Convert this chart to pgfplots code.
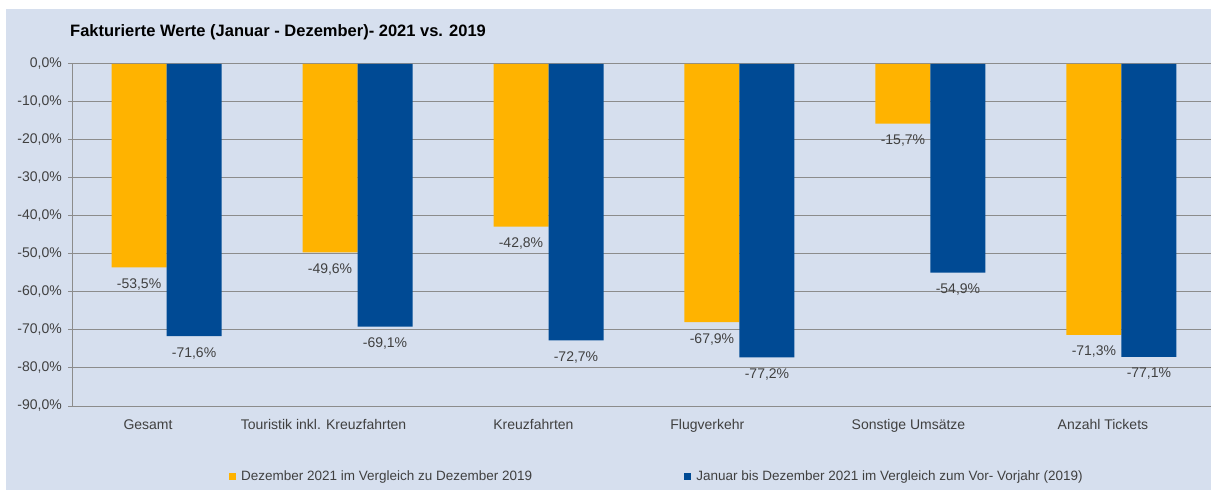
\documentclass[border=0pt]{standalone}
\usepackage{pgfplots}
\pgfplotsset{compat=1.18}
\usepackage{fontspec}
\setmainfont{Liberation Sans}

\definecolor{bgpanel}{HTML}{D6DFEE}
\definecolor{barorange}{HTML}{FFB300}
\definecolor{barblue}{HTML}{004A94}
\definecolor{gridgray}{HTML}{8C8C8C}
\definecolor{txtgray}{HTML}{404040}

\newcommand{\chartfont}{\fontsize{13.5bp}{16bp}\selectfont}
\newcommand{\tickfont}{\fontsize{14bp}{16bp}\selectfont}

\begin{document}
\begin{tikzpicture}
\useasboundingbox (0,0) rectangle (1211bp,490bp);
\fill[white] (0,0) rectangle (1211bp,490bp);
\fill[bgpanel] (6bp,0) rectangle (1211bp,481bp);
\node[anchor=base west, inner sep=0pt, font=\bfseries\fontsize{16.5bp}{19bp}\selectfont]
  at (70bp,453bp) {Fakturierte Werte (Januar - Dezember)- 2021 vs. 2019};

\begin{axis}[
  at={(72bp,84bp)}, anchor=south west,
  scale only axis, width=1139bp, height=342bp,
  xmin=-0.495, xmax=5.469,
  ymin=-90, ymax=0,
  ybar, bar width=55bp,
  axis x line*=bottom, axis y line*=left,
  axis line style={draw=gridgray, line width=1bp},
  ymajorgrids,
  major grid style={draw=gridgray, line width=1bp},
  tick align=outside, major tick length=4bp,
  xtick style={draw=none},
  ytick style={draw=gridgray, line width=1bp},
  xtick={-0.097,0.822,1.921,2.832,3.885,4.903},
  xticklabels={Gesamt, Touristik inkl. Kreuzfahrten, Kreuzfahrten, Flugverkehr, Sonstige Umsätze, Anzahl Tickets},
  ytick={-90,-80,-70,-60,-50,-40,-30,-20,-10,0},
  /pgf/number format/assume math mode=true,
  yticklabel={\pgfmathprintnumber[fixed,fixed zerofill,precision=1,use comma]{\tick}\%},
  tick label style={font=\tickfont, text=txtgray},
  yticklabel style={anchor=east, inner sep=0pt, xshift=-6bp},
  xticklabel style={anchor=base, inner sep=0pt, yshift=-19bp},
  nodes near coords={\pgfmathprintnumber[fixed,fixed zerofill,precision=1,use comma]{\pgfplotspointmeta}\%},
  every node near coord/.append style={font=\tickfont, text=txtgray, anchor=center, inner sep=0pt, yshift=-17bp},
  legend columns=2,
  legend style={at={(rel axis cs:0.1378,-0.2047)}, anchor=west, draw=none, fill=none,
    inner sep=0pt, font=\chartfont, text=txtgray,
    /tikz/every odd column/.append style={column sep=3bp},
    /tikz/every even column/.append style={column sep=150bp}},
  legend image code/.code={\fill[#1] (0bp,-3.5bp) rectangle (7bp,3.5bp);},
  clip=false,
]
\addplot[fill=barorange, draw=none, bar shift=-27.5bp] coordinates {
  (0,-53.5) (1,-49.6) (2,-42.8) (3,-67.9) (4,-15.7) (5,-71.3)
};
\addplot[fill=barblue, draw=none, bar shift=27.5bp] coordinates {
  (0,-71.6) (1,-69.1) (2,-72.7) (3,-77.2) (4,-54.9) (5,-77.1)
};
\legend{Dezember 2021 im Vergleich zu Dezember 2019, Januar bis Dezember 2021 im Vergleich zum Vor- Vorjahr (2019)}
\end{axis}
\end{tikzpicture}
\end{document}
